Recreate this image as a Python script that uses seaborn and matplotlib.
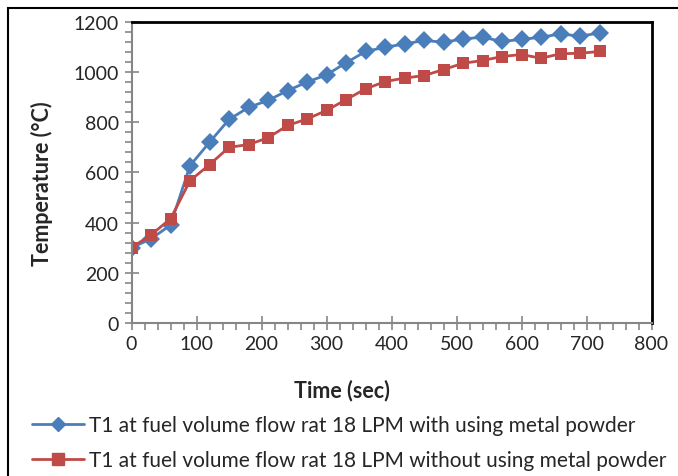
import pandas as pd
import matplotlib
matplotlib.use('Agg')
import matplotlib.pyplot as plt
import seaborn as sns
from matplotlib.patches import Rectangle
from matplotlib.ticker import MultipleLocator

# Data
time_sec = [0, 30, 60, 90, 120, 150, 180, 210, 240, 270, 300, 330, 360,
            390, 420, 450, 480, 510, 540, 570, 600, 630, 660, 690, 720]
temp_with_powder = [300, 335, 390, 627, 720, 811, 859, 887, 926, 960, 989, 1037, 1082,
                    1099, 1112, 1126, 1119, 1132, 1139, 1122, 1130, 1139, 1152, 1143, 1156]
temp_without_powder = [300, 351, 415, 567, 631, 700, 711, 738, 787, 813, 847, 890, 933,
                       962, 976, 986, 1010, 1035, 1046, 1062, 1070, 1055, 1073, 1075, 1082]
series_names = ['T1 at fuel volume flow rat 18 LPM with using metal powder',
                'T1 at fuel volume flow rat 18 LPM without using metal powder']

df = pd.concat([
    pd.DataFrame({'Time': time_sec, 'Temp': temp_with_powder, 'Series': series_names[0]}),
    pd.DataFrame({'Time': time_sec, 'Temp': temp_without_powder, 'Series': series_names[1]}),
])

sns.set_style('white')
plt.rcParams['font.family'] = ['Lato', 'DejaVu Sans']

fig = plt.figure(figsize=(6.78, 4.77), dpi=100)
ax = fig.add_axes([0.194, 0.321, 0.767, 0.631])

sns.lineplot(data=df, x='Time', y='Temp', hue='Series', style='Series',
             markers={series_names[0]: 'D', series_names[1]: 's'}, dashes=False,
             palette={series_names[0]: '#4A7EBB', series_names[1]: '#BE4B48'},
             linewidth=2, markersize=9, markeredgewidth=0, ax=ax, legend=False)

ax.set_xlim(0, 800)
ax.set_ylim(0, 1200)
ax.xaxis.set_major_locator(MultipleLocator(100))
ax.xaxis.set_minor_locator(MultipleLocator(20))
ax.yaxis.set_major_locator(MultipleLocator(200))
ax.yaxis.set_minor_locator(MultipleLocator(40))
ax.tick_params(which='major', direction='inout', length=10, width=1.2, color='#868686',
               labelsize=14, pad=4)
ax.tick_params(which='minor', direction='out', length=5, width=1.2, color='#868686')
ax.tick_params(axis='x', which='both', bottom=True)
ax.tick_params(axis='y', which='both', left=True)

for side in ['left', 'bottom']:
    ax.spines[side].set_color('#868686')
    ax.spines[side].set_linewidth(1.5)
for side in ['top', 'right']:
    ax.spines[side].set_color('black')
    ax.spines[side].set_linewidth(2)

ax.set_xlabel('Time (sec)', fontsize=15.5, fontweight='bold')
ax.set_ylabel('Temperature (\u00b0C)', fontsize=15.5, fontweight='bold')
ax.xaxis.set_label_coords(0.404, -0.186)
ax.yaxis.set_label_coords(-0.151, 0.465)

# legend below the plot
handles = [plt.Line2D([], [], color='#4A7EBB', marker='D', markersize=7, linewidth=2),
           plt.Line2D([], [], color='#BE4B48', marker='s', markersize=8, linewidth=2)]
fig.legend(handles, series_names, loc='center left', bbox_to_anchor=(0.032, 0.070),
           bbox_transform=fig.transFigure, frameon=False, fontsize=15, borderpad=0,
           handlelength=2.5, handletextpad=0.25, labelspacing=0.75)

# outer chart border
fig.patches.append(Rectangle((0.012, -0.05), 1.2, 1.031, transform=fig.transFigure,
                             fill=False, edgecolor='black', linewidth=1.5))

fig.savefig('out.png', dpi=100)
